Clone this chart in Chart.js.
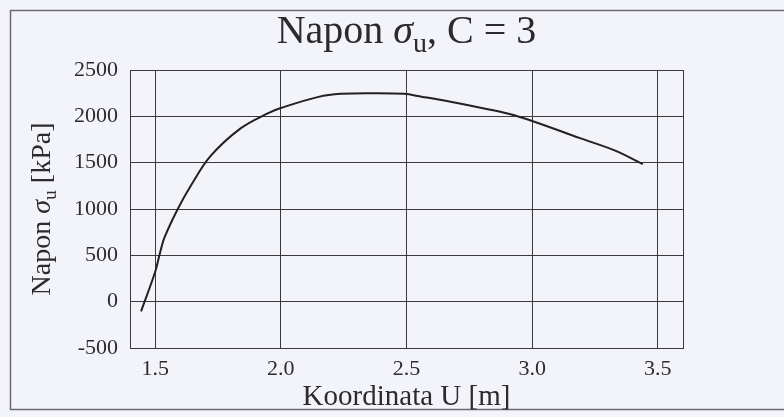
<!DOCTYPE html>
<html>
<head>
<meta charset="utf-8">
<script src="https://cdn.jsdelivr.net/npm/chart.js@4.4.1/dist/chart.umd.min.js"></script>
<style>
  html, body { margin: 0; padding: 0; background: #f3f4f9; }
  #wrap { width: 784px; height: 417px; }
</style>
</head>
<body>
<div id="wrap"><canvas id="napon" width="784" height="417"></canvas></div>
<script>
// koordinata U [m] i napon [kPa] za C = 3
const koordinate = [1.444, 1.50, 1.517, 1.537, 1.59, 1.643, 1.72, 1.84, 1.95, 2.0, 2.15, 2.24, 2.36, 2.49, 2.56, 2.68, 2.79, 2.91, 3.0, 3.19, 3.33, 3.44];
const naponi = [-105, 320, 500, 690, 1000, 1256, 1570, 1870, 2035, 2090, 2210, 2243, 2250, 2243, 2212, 2155, 2095, 2025, 1950, 1765, 1630, 1485];
const xTicks = [1.5, 2.0, 2.5, 3.0, 3.5];
const yTicks = [-500, 0, 500, 1000, 1500, 2000, 2500];

const SERIF = '"Liberation Serif", "DejaVu Serif", serif';
const ink = '#2b2b2f';

// tekst sa indeksom (npr. sigma_u)
function richWidth(ctx, parts, size) {
    let w = 0;
    parts.forEach(p => {
        ctx.font = (p.it ? 'italic ' : '') + (p.sub ? size * 0.7 : size) + 'px ' + SERIF;
        w += ctx.measureText(p.t).width;
    });
    return w;
}
function drawRich(ctx, parts, x, y, size) {
    let w = richWidth(ctx, parts, size);
    let cx = x - w / 2;
    ctx.textBaseline = 'alphabetic';
    ctx.textAlign = 'left';
    parts.forEach(p => {
        ctx.font = (p.it ? 'italic ' : '') + (p.sub ? size * 0.7 : size) + 'px ' + SERIF;
        ctx.fillText(p.t, cx, p.sub ? y + size * 0.22 : y);
        cx += ctx.measureText(p.t).width;
    });
}

const okvir = {
    id: 'okvir',
    beforeDatasetsDraw(chart) {
        const ctx = chart.ctx, a = chart.chartArea;
        ctx.save();
        ctx.strokeStyle = '#3a3a3e';
        ctx.lineWidth = 1;
        ctx.strokeRect(Math.round(a.left) + 0.5, Math.round(a.top) + 0.5, Math.round(a.right - a.left), Math.round(a.bottom - a.top));
        ctx.restore();
    },
    afterDraw(chart) {
        const ctx = chart.ctx, a = chart.chartArea;
        const mid = (a.left + a.right) / 2;
        ctx.save();
        // spoljni okvir slike
        ctx.strokeStyle = '#6a6a70';
        ctx.lineWidth = 1.5;
        ctx.beginPath();
        ctx.moveTo(784, 10.5); ctx.lineTo(10.5, 10.5); ctx.lineTo(10.5, 409.5); ctx.lineTo(784, 409.5);
        ctx.stroke();

        ctx.fillStyle = ink;
        drawRich(ctx, [{t: 'Napon '}, {t: 'σ', it: true}, {t: 'u', sub: true}, {t: ', C = 3'}], mid, 43, 40);
        drawRich(ctx, [{t: 'Koordinata U [m]'}], mid, 405, 29);

        ctx.translate(50, (a.top + a.bottom) / 2);
        ctx.rotate(-Math.PI / 2);
        drawRich(ctx, [{t: 'Napon '}, {t: 'σ', it: true}, {t: 'u', sub: true}, {t: ' [kPa]'}], 0, 0, 28);
        ctx.restore();
    }
};

new Chart(document.getElementById('napon'), {
    type: 'line',
    data: {
        datasets: [{
            data: koordinate.map((x, i) => ({x: x, y: naponi[i]})),
            borderColor: '#231f22',
            borderWidth: 2,
            pointRadius: 0,
            fill: false,
            tension: 0.35
        }]
    },
    options: {
        responsive: false,
        animation: false,
        layout: { padding: { left: 0, top: 70, right: 101, bottom: 0 } },
        plugins: { legend: { display: false }, tooltip: { enabled: false } },
        scales: {
            x: {
                type: 'linear',
                min: 1.4,
                max: 3.6,
                afterBuildTicks: s => { s.ticks = xTicks.map(v => ({value: v})); },
                afterFit: s => { s.height = 69; },
                grid: { color: '#3a3a3e', lineWidth: 1, drawTicks: false },
                border: { display: false },
                ticks: {
                    color: ink,
                    font: { family: SERIF, size: 22 },
                    padding: 8,
                    maxRotation: 0,
                    callback: v => v.toFixed(1)
                }
            },
            y: {
                min: -500,
                max: 2500,
                afterBuildTicks: s => { s.ticks = yTicks.map(v => ({value: v})); },
                afterFit: s => { s.width = 130; },
                grid: { color: '#3a3a3e', lineWidth: 1, drawTicks: false },
                border: { display: false },
                ticks: {
                    color: ink,
                    font: { family: SERIF, size: 22 },
                    padding: 12,
                    callback: v => String(v)
                }
            }
        }
    },
    plugins: [okvir]
});
</script>
</body>
</html>
